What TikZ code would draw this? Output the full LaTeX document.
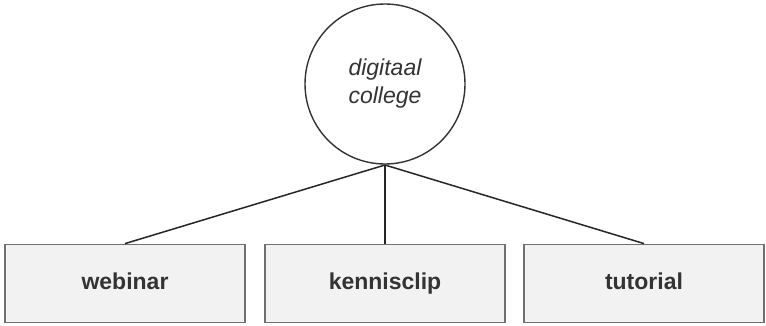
\documentclass[tikz,border=0pt]{standalone}
\usepackage{fontspec}
\setmainfont{Liberation Sans}
\definecolor{boxfill}{HTML}{F2F2F2}
\definecolor{boxline}{HTML}{707070}
\definecolor{txt}{HTML}{333333}
\begin{document}
\begin{tikzpicture}[x=1pt,y=-1pt,
  catbox/.style={draw=boxline,line width=1.8pt,fill=boxfill,minimum width=240pt,minimum height=78pt,inner sep=0pt,
    text height=16pt,text depth=4pt,
    font=\fontsize{23}{26}\selectfont\bfseries,text=txt},
  hub/.style={draw=txt,line width=1.4pt,fill=white,circle,minimum size=160pt,inner sep=0pt,
    font=\fontsize{23}{28}\selectfont\itshape,text=txt,align=center},
  link/.style={draw=black!85,line width=1.5pt}]
\useasboundingbox (0,0) rectangle (766,326);
\node[hub] (dc) at (385,84) {digitaal\\college};
\coordinate (j) at (385,165);
\node[catbox] (w) at (125,283.5) {webinar};
\node[catbox] (k) at (385,283.5) {kennisclip};
\node[catbox] (t) at (644,283.5) {tutorial};
\draw[link] (j) -- (w.north);
\draw[link] (j) -- (k.north);
\draw[link] (j) -- (t.north);
\end{tikzpicture}
\end{document}
